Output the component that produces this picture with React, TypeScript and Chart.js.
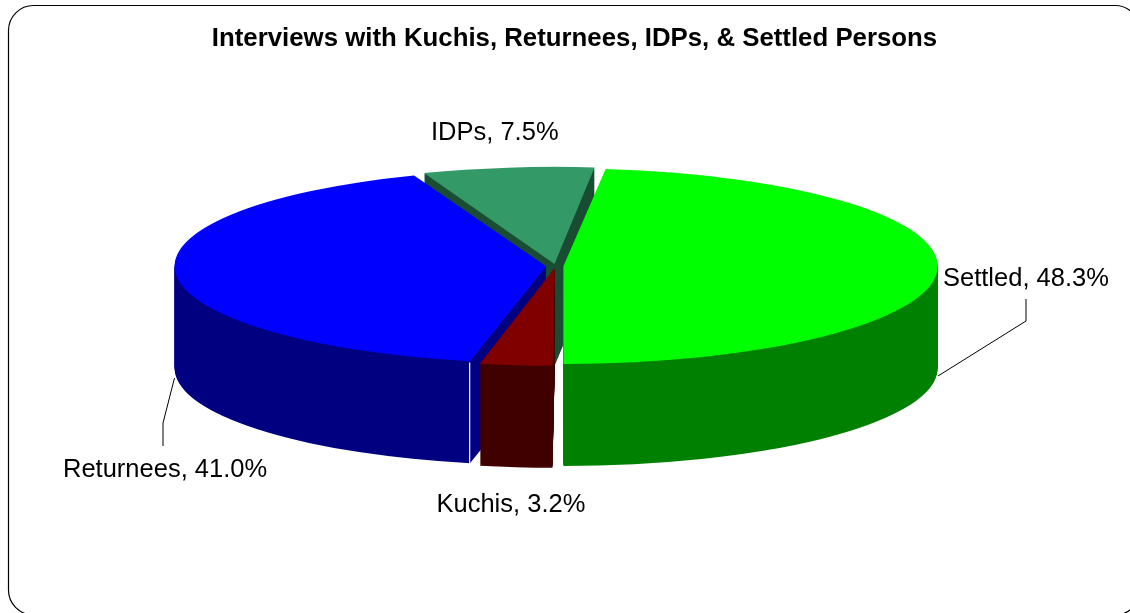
import React, { useEffect, useRef } from "react";
import { Chart, registerables } from "chart.js";

Chart.register(...registerables);

const titleText = "Interviews with Kuchis, Returnees, IDPs, & Settled Persons";
const categories = ["Settled", "Kuchis", "Returnees", "IDPs"];
const shares = [48.3, 3.2, 41.0, 7.5];
const topColors = ["#00FF00", "#800000", "#0000FF", "#339966"];
const wallColors = ["#008000", "#400000", "#000080", "#1A4D33"];
const sliceOffsets = [32, 32, 38, 32];

const FONT = '"Liberation Sans", Arial, sans-serif';
const W = 1130;
const H = 613;
const PIE_CX = 555.5;
const PIE_CY = 266;
const Y_SQUASH = 98 / 375;
const DEPTH = 102;
const PAINT_ORDER = [3, 2, 0, 1];
const RETURNEES = 2;

const labelPlacement = [
  { x: 943, y: 285.5, leader: [[938, 376], [1026, 321], [1026, 299]] },
  { x: 436.5, y: 511.5, leader: [] },
  { x: 63, y: 476.5, leader: [[174.5, 378], [163, 423], [163, 446]] },
  { x: 431, y: 140, leader: [] },
];

const pie3d = {
  id: "pie3d",
  beforeDraw(chart: any) {
    const ctx = chart.ctx;
    ctx.save();
    ctx.strokeStyle = "#000";
    ctx.lineWidth = 1.2;
    ctx.beginPath();
    ctx.roundRect(8.5, 5.5, 1131.5, 609.5, 25);
    ctx.stroke();
    ctx.restore();
  },
  beforeDatasetsDraw(chart: any) {
    const ctx = chart.ctx;
    const arcs = chart.getDatasetMeta(0).data;
    const place = (arc: any, drop: number) => {
      ctx.translate(PIE_CX, PIE_CY + drop);
      ctx.scale(1, Y_SQUASH);
      ctx.translate(-arc.x, -arc.y);
    };
    for (const i of PAINT_ORDER) {
      const arc = arcs[i];
      const base = arc.options;
      arc.options = Object.assign(Object.create(base), {
        backgroundColor: wallColors[i],
        borderColor: wallColors[i],
        borderWidth: 0,
      });
      for (let d = DEPTH; d > 0; d--) {
        ctx.save();
        place(arc, d);
        arc.draw(ctx);
        ctx.restore();
      }
      arc.options = base;
      if (i === RETURNEES) {
        const half = (arc.startAngle + arc.endAngle) / 2;
        const off = (base.offset || 0) / 4;
        const r = arc.outerRadius + off;
        const px = PIE_CX + Math.cos(half) * off + Math.cos(arc.startAngle) * r;
        const py = PIE_CY + (Math.sin(half) * off + Math.sin(arc.startAngle) * r) * Y_SQUASH;
        ctx.save();
        ctx.strokeStyle = "#fff";
        ctx.lineWidth = 1.2;
        ctx.beginPath();
        ctx.moveTo(px, py);
        ctx.lineTo(px, py + DEPTH);
        ctx.stroke();
        ctx.restore();
      }
      ctx.save();
      place(arc, 0);
      arc.draw(ctx);
      ctx.restore();
    }
    return false;
  },
  afterDraw(chart: any) {
    const ctx = chart.ctx;
    ctx.save();
    ctx.fillStyle = "#000";
    ctx.strokeStyle = "#000";
    ctx.lineWidth = 1;
    ctx.font = `25.5px ${FONT}`;
    ctx.textBaseline = "alphabetic";
    ctx.textAlign = "left";
    categories.forEach((name, i) => {
      const p = labelPlacement[i];
      ctx.fillText(`${name}, ${shares[i].toFixed(1)}%`, p.x, p.y);
      if (p.leader.length) {
        ctx.beginPath();
        p.leader.forEach(([x, y], k) => (k ? ctx.lineTo(x, y) : ctx.moveTo(x, y)));
        ctx.stroke();
      }
    });
    ctx.restore();
  },
};

export default function App() {
  const ref = useRef<HTMLCanvasElement>(null);
  useEffect(() => {
    const chart = new Chart(ref.current as HTMLCanvasElement, {
      type: "pie",
      data: {
        labels: categories,
        datasets: [
          {
            data: shares,
            backgroundColor: topColors,
            borderWidth: 0,
            offset: sliceOffsets,
          },
        ],
      },
      options: {
        responsive: false,
        animation: false,
        rotation: 6.3,
        radius: 367,
        layout: { padding: { left: 19, right: 0, top: 0, bottom: 0 } },
        plugins: {
          legend: { display: false },
          tooltip: { enabled: false },
          title: {
            display: true,
            text: titleText,
            color: "#000",
            font: { family: FONT, size: 25.8, weight: "bold" },
            padding: { top: 23, bottom: 10 },
          },
        },
      },
      plugins: [pie3d],
    } as any);
    return () => chart.destroy();
  }, []);
  return (
    <canvas
      ref={ref}
      width={W}
      height={H}
      style={{ position: "fixed", left: 0, top: 0, display: "block" }}
    />
  );
}
